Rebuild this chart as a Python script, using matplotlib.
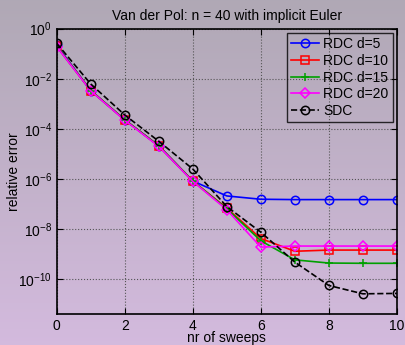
import numpy as np
import matplotlib
matplotlib.use("Agg")
import matplotlib.pyplot as plt
from matplotlib.ticker import FixedLocator, LogFormatterSciNotation, NullLocator

plt.rcParams['font.family'] = ['Liberation Sans', 'DejaVu Sans']
plt.rcParams['mathtext.fontset'] = 'custom'
plt.rcParams['mathtext.rm'] = 'Liberation Sans'
plt.rcParams['mathtext.it'] = 'Liberation Sans:italic'

sweeps = np.arange(0, 11)
rdc_d5 = [0.22, 3.4e-3, 2.3e-4, 2.1e-5, 8.3e-7, 2.1e-7, 1.55e-7, 1.5e-7, 1.5e-7, 1.5e-7, 1.5e-7]
rdc_d10 = [0.2, 3.4e-3, 2.3e-4, 2.1e-5, 8.3e-7, 6.8e-8, 4.2e-9, 1.3e-9, 1.45e-9, 1.45e-9, 1.45e-9]
rdc_d15 = [0.2, 3.4e-3, 2.3e-4, 2.1e-5, 8.3e-7, 6.5e-8, 3.4e-9, 5.9e-10, 4.4e-10, 4.3e-10, 4.3e-10]
rdc_d20 = [0.19, 3.3e-3, 2.2e-4, 2.0e-5, 8.0e-7, 5.9e-8, 1.9e-9, 2.1e-9, 2.1e-9, 2.1e-9, 2.1e-9]
sdc = [0.26, 6.2e-3, 3.6e-4, 3.2e-5, 2.5e-6, 7.9e-8, 7.5e-9, 4.8e-10, 5.6e-11, 2.6e-11, 2.7e-11]

fig = plt.figure(figsize=(4.05, 3.45), dpi=100)

# lavender gradient behind everything
bg = fig.add_axes([0, 0, 1, 1], zorder=-10)
top_c = np.array([0.69, 0.66, 0.71])
bot_c = np.array([0.83, 0.73, 0.87])
t = np.linspace(0, 1, 256)[:, None, None]
grad = top_c * (1 - t) + bot_c * t
bg.imshow(np.repeat(grad, 2, axis=1), aspect='auto', extent=[0, 1, 0, 1])
bg.axis('off')

ax = fig.add_axes([0.14, 0.0899, 0.84, 0.827])
ax.set_facecolor('none')

kw = dict(lw=1.2, ms=6, mfc='none', mew=1.1)
ax.semilogy(sweeps, rdc_d5, '-o', color='blue', label='RDC d=5', **kw)
ax.semilogy(sweeps, rdc_d10, '-s', color='red', label='RDC d=10', lw=1.2, ms=5.5, mfc='none', mew=1.1)
ax.semilogy(sweeps, rdc_d15, '-+', color='#00a000', label='RDC d=15', **kw)
ax.semilogy(sweeps, rdc_d20, '-D', color='magenta', label='RDC d=20', lw=1.2, ms=5, mfc='none', mew=1.1)
ax.semilogy(sweeps, sdc, '--o', color='black', label='SDC', **kw)

ax.set_xlim(0, 10)
ax.set_ylim(10**-11.39, 1)
ax.set_xticks([0, 2, 4, 6, 8, 10])
ax.yaxis.set_major_locator(FixedLocator([1e0, 1e-2, 1e-4, 1e-6, 1e-8, 1e-10]))
ax.yaxis.set_major_formatter(LogFormatterSciNotation())
ax.yaxis.set_minor_locator(NullLocator())
ax.tick_params(direction='in', top=True, right=True, labelsize=10, length=4, width=0.8)
ax.grid(True, linestyle=':', color='#555555', lw=0.8)
for s in ax.spines.values():
    s.set_linewidth(1.2)

ax.set_title('Van der Pol: n = 40 with implicit Euler', fontsize=10, pad=6)
ax.set_xlabel('nr of sweeps', fontsize=10, labelpad=-1)
ax.set_ylabel('relative error', fontsize=10)
ax.yaxis.set_label_coords(-0.105, 0.5)

leg = ax.legend(loc='upper right', fontsize=10, handlelength=2.0, handletextpad=0.3,
                borderpad=0.3, labelspacing=0.2, fancybox=False, facecolor='none',
                borderaxespad=0.3)
leg.get_frame().set_edgecolor('black')
leg.get_frame().set_linewidth(1.0)

fig.savefig('out.png', dpi=100)
